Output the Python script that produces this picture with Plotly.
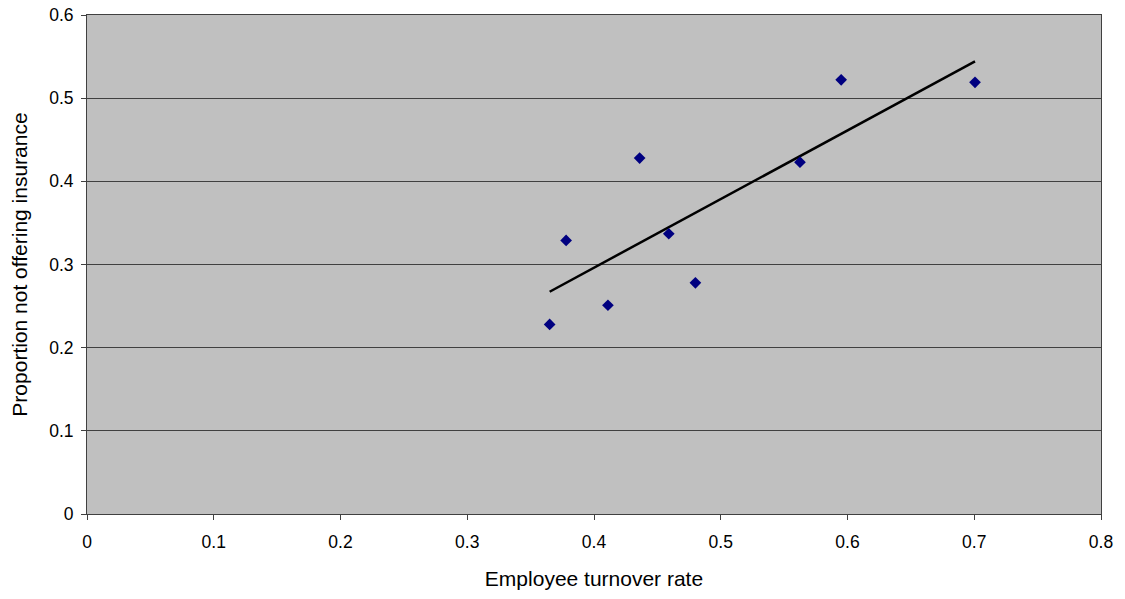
import numpy as np
import plotly.graph_objects as go

turnover = [0.365, 0.378, 0.411, 0.436, 0.459, 0.480, 0.5625, 0.595, 0.7006]
not_offering = [0.228, 0.329, 0.251, 0.428, 0.337, 0.278, 0.423, 0.522, 0.519]

slope, intercept = np.polyfit(turnover, not_offering, 1)
x_line = [min(turnover), max(turnover)]
y_line = [slope * x + intercept for x in x_line]

fig = go.Figure()
fig.add_trace(go.Scatter(x=x_line, y=y_line, mode="lines",
                         line=dict(color="black", width=2.5), showlegend=False))
fig.add_trace(go.Scatter(x=turnover, y=not_offering, mode="markers",
                         marker=dict(symbol="diamond", size=9, color="#000080"),
                         showlegend=False))

font = dict(family="Liberation Sans, Arial, sans-serif", size=17.5, color="black")
fig.update_layout(
    width=1125, height=599,
    margin=dict(l=87, r=24, t=15, b=85, autoexpand=False),
    paper_bgcolor="white", plot_bgcolor="#C0C0C0",
    font=font,
    xaxis=dict(range=[0, 0.8], dtick=0.1, tickformat="~g", showgrid=False,
               zeroline=False, showline=True, linecolor="#404040", linewidth=1,
               mirror=True, ticks="outside", ticklen=5, tickcolor="#404040",
               ticklabelstandoff=7, automargin=False,
               title=dict(text="Employee turnover rate", standoff=20)),
    yaxis=dict(range=[0, 0.6], dtick=0.1, tickformat="~g", showgrid=True,
               gridcolor="#404040", gridwidth=1, zeroline=False,
               showline=True, linecolor="#404040", linewidth=1, mirror=True,
               ticks="outside", ticklen=5, tickcolor="#404040",
               ticklabelstandoff=4, automargin=False,
               title=dict(text="Proportion not offering insurance", standoff=15)),
)
fig.write_html("out.html", config={"displayModeBar": False},
               post_script="document.body.style.margin='0';document.body.style.overflow='hidden';")
